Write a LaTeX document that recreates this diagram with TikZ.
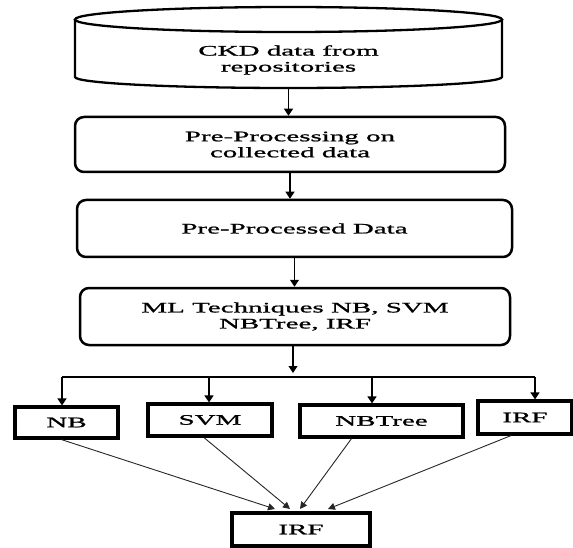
\documentclass[tikz,border=0pt]{standalone}
\usepackage{fontspec}
\setmainfont{Liberation Serif}[FakeStretch=2,FakeBold=1.2]
\usetikzlibrary{arrows.meta,calc}
\begin{document}
\begin{tikzpicture}[x=1pt,y=-1pt,
  txt/.style={font=\fontsize{14.5}{16}\selectfont, align=center},
  rbox/.style={txt, draw, line width=2.5pt, rounded corners=9pt, inner sep=0pt},
  sbox/.style={txt, draw, line width=3.2pt, inner sep=0pt},
  arr/.style={-{Triangle[length=7pt,width=9pt]}, line width=1.2pt},
  darr/.style={-{Triangle[length=7pt,width=7pt]}, line width=0.9pt, black!85},
  hline/.style={line width=1.2pt}]
\useasboundingbox (0,0) rectangle (573,548);
% cylinder
\draw[line width=2.3pt] (75,19.5) -- (75,77) arc[start angle=180, end angle=360, x radius=213.5pt, y radius=11pt] -- (502,19.5);
\draw[line width=2.3pt, fill=white] (288.5,19.5) ellipse [x radius=213.5pt, y radius=12.5pt];
\node[txt, minimum width=427pt, minimum height=56pt] (ckd) at (288.5,60) {CKD data from\\repositories};
\coordinate (ckdb) at (288.5,88);
% main boxes
\node[rbox, minimum width=430pt, minimum height=55pt] (b2) at (290,144.5) {Pre-Processing on\\collected data};
\node[rbox, minimum width=435pt, minimum height=57pt] (b3) at (294.5,228.5) {Pre-Processed Data};
\node[rbox, minimum width=430pt, minimum height=57pt] (b4) at (295,316.5) {ML Techniques NB, SVM\\NBTree, IRF};
\draw[arr] (ckdb) -- (ckdb |- b2.north);
\draw[arr] (b2.south) -- (b2.south |- b3.north);
\draw[arr] (b3.south) -- (b3.south |- b4.north);
\coordinate (split) at (293,373);
\draw[arr] (b4.south -| split) -- (split);
% distribution line
\coordinate (d1) at (62,377);
\coordinate (d2) at (209,377);
\coordinate (d3) at (372,377);
\coordinate (d4) at (535,377);
\draw[hline] (d1) -- (d4);
% classifier boxes
\node[sbox, minimum width=103pt, minimum height=31pt] (nb) at (66.5,422.5) {NB};
\node[sbox, minimum width=124pt, minimum height=32pt] (svm) at (210,420) {SVM};
\node[sbox, minimum width=163pt, minimum height=32pt] (nbt) at (381.5,421) {NBTree};
\node[sbox, minimum width=94pt, minimum height=33pt] (irf) at (525,417.5) {IRF};
\draw[arr] (d1) -- (d1 |- nb.north);
\draw[arr] (d2) -- (d2 |- svm.north);
\draw[arr] (d3) -- (d3 |- nbt.north);
\draw[arr] (d4) -- (d4 |- irf.north);
% final
\node[sbox, minimum width=138pt, minimum height=33pt] (fin) at (301,529.5) {IRF};
\coordinate (t1) at (275,509);
\coordinate (t2) at (290,509);
\coordinate (t3) at (300,509);
\coordinate (t4) at (328,509);
\draw[darr] ($(nb.south)+(-5,0)$) -- (t1);
\draw[darr] ($(svm.south)+(-6,0)$) -- (t2);
\draw[darr] ($(nbt.south)+(-30,0)$) -- (t3);
\draw[darr] ($(irf.south)+(-14,0)$) -- (t4);
\end{tikzpicture}
\end{document}
